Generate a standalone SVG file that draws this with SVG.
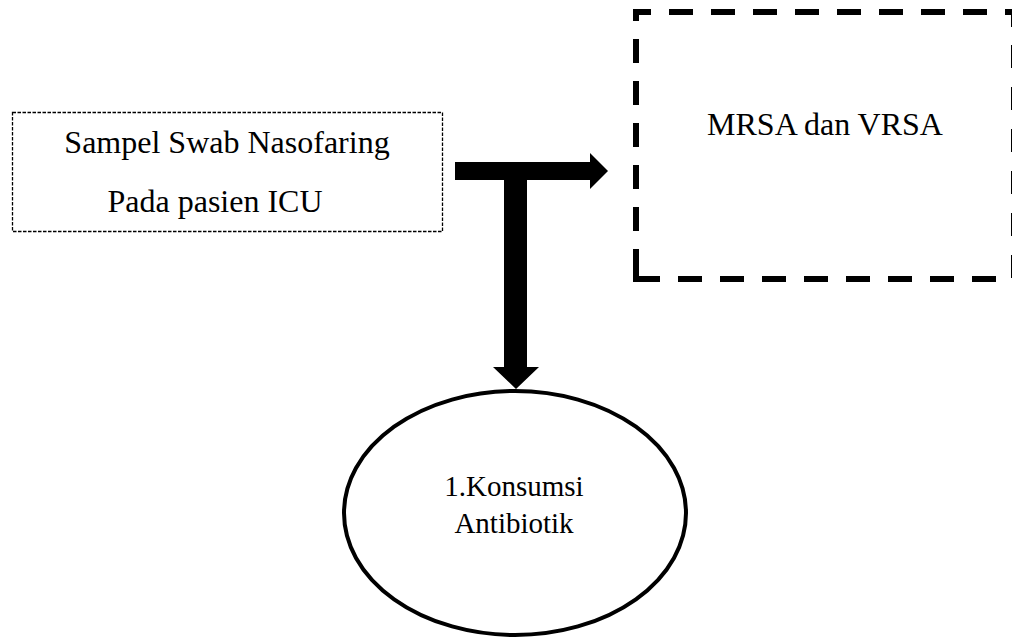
<svg xmlns="http://www.w3.org/2000/svg" width="1012" height="638" viewBox="0 0 1012 638">
<style>
.t{font-family:"Liberation Serif","Times New Roman",serif;fill:#000;text-anchor:middle}
.big{font-size:32px}
.sm{font-size:29px}
.thick{fill:none;stroke:#000;stroke-width:6;stroke-linejoin:miter;stroke-linecap:butt}
</style>
<rect width="1012" height="638" fill="#fff"/>
<g id="node-sampel">
<rect x="12.5" y="112.5" width="430" height="119" fill="#fff" stroke="#000" stroke-width="1.3" stroke-dasharray="3.5 1.5"/>
<text class="t big" x="227" y="153">Sampel Swab Nasofaring</text>
<text class="t big" x="215" y="212">Pada pasien ICU</text>
</g>
<g id="node-mrsa">
<path class="thick" d="M636,21 V12 H651"/>
<path class="thick" d="M669,12 H1005" stroke-dasharray="24 18"/>
<path class="thick" d="M1005,12 H1014 V27"/>
<path class="thick" d="M636,39 V240" stroke-dasharray="24 18"/>
<path class="thick" d="M636,249 V279 H660"/>
<path class="thick" d="M678,279 H1000" stroke-dasharray="24 18"/>
<path class="thick" d="M1014,45 V280" stroke-dasharray="23 19"/>
<text class="t big" x="825" y="135">MRSA dan VRSA</text>
</g>
<g id="node-konsumsi">
<ellipse cx="515" cy="513" rx="171" ry="122" fill="#fff" stroke="#000" stroke-width="4"/>
<text class="t sm" x="514" y="496">1.Konsumsi</text>
<text class="t sm" x="514" y="533">Antibiotik</text>
</g>
<g id="connectors" fill="#000">
<polygon points="455,162 590,162 590,153 608,171 590,189 590,180 455,180"/>
<polygon points="504,180 527,180 527,367 539,367 516,389 493,367 504,367"/>
</g>
</svg>
